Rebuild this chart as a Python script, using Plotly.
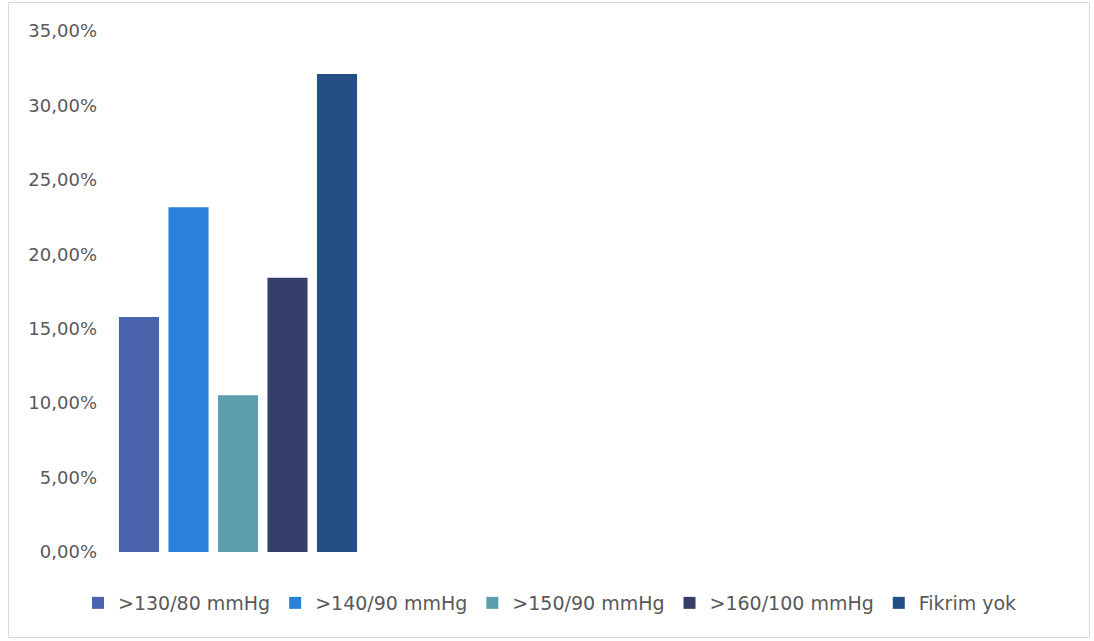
import plotly.graph_objects as go

# ---- data ----
series_names = [">130/80 mmHg", ">140/90 mmHg", ">150/90 mmHg", ">160/100 mmHg", "Fikrim yok"]
values_pct = [15.79, 23.16, 10.53, 18.42, 32.11]
category = ["Hipertansiyon sınırı"]
y_tick_values = [0, 5, 10, 15, 20, 25, 30, 35]

# ---- style ----
colors = ["#4A63AD", "#2A80DA", "#5BA0AC", "#363F69", "#234F86"]
W, H = 1094, 641
ML, MR, MT, MB = 108, 19, 31, 89
text_color = "#595959"
font_family = "DejaVu Sans"

fig = go.Figure()
for name, v, c in zip(series_names, values_pct, colors):
    fig.add_trace(go.Bar(
        name=name,
        x=category,
        y=[v / 100.0],
        marker=dict(color=c, line=dict(width=0)),
        hoverinfo="name+y",
    ))

plot_w = W - ML - MR
plot_h = H - MT - MB
group_px = 247.5
group_center_px = 238.0
x0 = -(group_center_px - ML) / group_px
x1 = x0 + plot_w / group_px

def px_to_paper_x(px):
    return (px - ML) / plot_w

def px_to_paper_y(py):
    return (H - MB - py) / plot_h

fig.update_layout(
    width=W, height=H,
    margin=dict(l=ML, r=MR, t=MT, b=MB, pad=0),
    paper_bgcolor="white",
    plot_bgcolor="white",
    barmode="group",
    bargap=0.0,
    bargroupgap=0.19,
    separators=", ",
    font=dict(family=font_family, size=18, color=text_color),
    showlegend=True,
    legend=dict(
        orientation="h",
        x=px_to_paper_x(W / 2 + 3),
        xanchor="center",
        y=px_to_paper_y(603),
        yanchor="middle",
        font=dict(family=font_family, size=19, color=text_color),
        bgcolor="rgba(0,0,0,0)",
        traceorder="normal",
    ),
    xaxis=dict(
        type="category",
        range=[x0, x1],
        showticklabels=False,
        showgrid=False,
        zeroline=False,
        showline=False,
        ticks="",
        fixedrange=True,
    ),
    yaxis=dict(
        range=[0, 0.35],
        tickvals=[t / 100.0 for t in y_tick_values],
        tickformat=".2%",
        showgrid=False,
        zeroline=False,
        showline=False,
        ticks="",
        ticklabelstandoff=10,
        tickfont=dict(family=font_family, size=18, color=text_color),
        fixedrange=True,
    ),
    shapes=[dict(
        type="rect", xref="paper", yref="paper",
        x0=px_to_paper_x(8.5), x1=px_to_paper_x(1089.5),
        y0=px_to_paper_y(637.5), y1=px_to_paper_y(2.5),
        line=dict(color="#D9D9D9", width=1),
        fillcolor="rgba(0,0,0,0)",
        layer="below",
    )],
)

fig.write_html("out.html")
